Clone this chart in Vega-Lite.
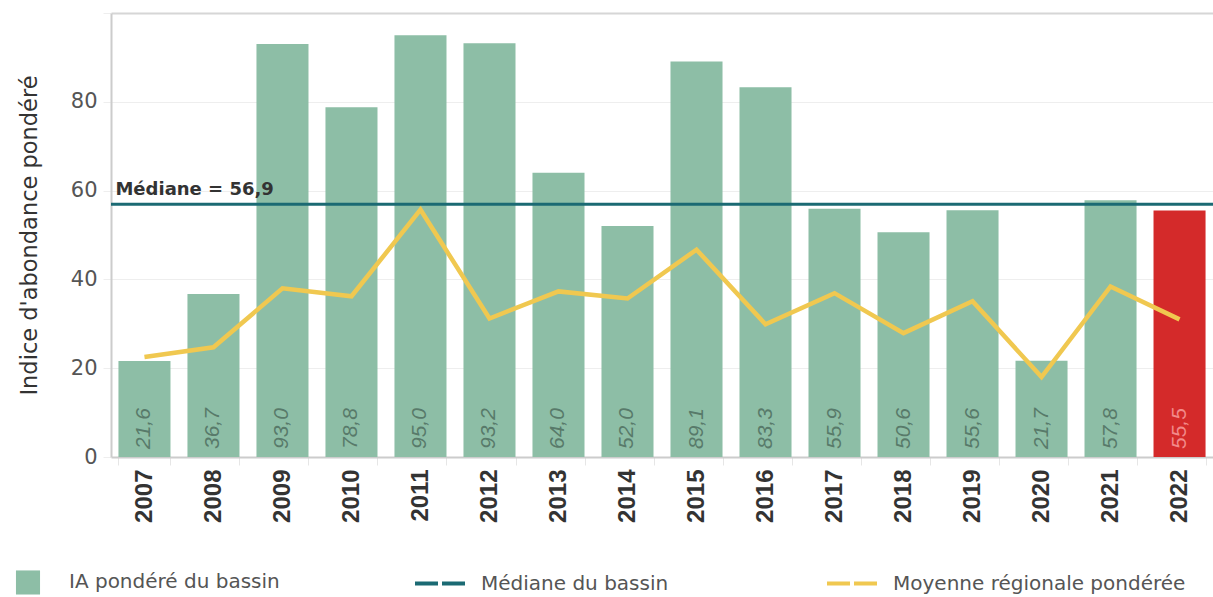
{
  "$schema": "https://vega.github.io/schema/vega-lite/v6.json",
  "width": 1102,
  "height": 444,
  "autosize": {"type": "none"},
  "padding": {"left": 111, "top": 13, "right": 0, "bottom": 140},
  "background": "white",
  "config": {
    "view": {"stroke": null},
    "locale": {"number": {"decimal": ",", "thousands": " ", "grouping": [3], "currency": ["", " €"]}},
    "font": "DejaVu Sans"
  },
  "datasets": {
    "annees": [
      {"annee": "2007", "ia": 21.6, "moyenne": 22.5},
      {"annee": "2008", "ia": 36.7, "moyenne": 24.7},
      {"annee": "2009", "ia": 93.0, "moyenne": 38.0},
      {"annee": "2010", "ia": 78.8, "moyenne": 36.2},
      {"annee": "2011", "ia": 95.0, "moyenne": 55.7},
      {"annee": "2012", "ia": 93.2, "moyenne": 31.2},
      {"annee": "2013", "ia": 64.0, "moyenne": 37.3},
      {"annee": "2014", "ia": 52.0, "moyenne": 35.7},
      {"annee": "2015", "ia": 89.1, "moyenne": 46.7},
      {"annee": "2016", "ia": 83.3, "moyenne": 29.9},
      {"annee": "2017", "ia": 55.9, "moyenne": 36.9},
      {"annee": "2018", "ia": 50.6, "moyenne": 27.9},
      {"annee": "2019", "ia": 55.6, "moyenne": 35.1},
      {"annee": "2020", "ia": 21.7, "moyenne": 18.0},
      {"annee": "2021", "ia": 57.8, "moyenne": 38.4},
      {"annee": "2022", "ia": 55.5, "moyenne": 31.0}
    ],
    "mediane": [
      {"annee": "2007", "mediane": 56.9}
    ]
  },
  "layer": [
    {
      "data": {"name": "annees"},
      "mark": {"type": "bar"},
      "encoding": {
        "x": {
          "field": "annee",
          "type": "nominal",
          "scale": {"paddingInner": 0.246, "paddingOuter": 0.108},
          "axis": {
            "title": null,
            "labelAngle": -90,
            "labelFont": "Liberation Sans",
            "labelFontWeight": "bold",
            "labelFontSize": 24,
            "labelColor": "#333333",
            "labelPadding": 4,
            "domainColor": "#cccccc",
            "domainWidth": 2,
            "tickColor": "#e6e6e6",
            "tickSize": 8,
            "tickBand": "extent",
            "grid": false
          }
        },
        "y": {
          "field": "ia",
          "type": "quantitative",
          "scale": {"domain": [0, 100], "nice": false},
          "axis": {
            "title": "Indice d'abondance pondéré",
            "titleFont": "DejaVu Sans",
            "titleFontSize": 22.5,
            "titleFontWeight": "normal",
            "titleColor": "#333333",
            "titlePadding": 29,
            "values": [0, 20, 40, 60, 80, 100],
            "labelExpr": "datum.value == 100 ? '' : datum.label",
            "labelFont": "DejaVu Sans",
            "labelFontSize": 21,
            "labelColor": "#555555",
            "labelPadding": 6,
            "tickSize": 8,
            "tickColor": "#eeeeee",
            "domainColor": "#cccccc",
            "domainWidth": 2,
            "gridColor": {"condition": {"test": "datum.value == 100", "value": "#d6d6d6"}, "value": "#eeeeee"},
            "gridWidth": {"condition": {"test": "datum.value == 100", "value": 2}, "value": 1}
          }
        },
        "color": {
          "condition": {"test": "datum.annee == '2022'", "value": "#d42a2a"},
          "datum": "IA pondéré du bassin",
          "type": "nominal",
          "scale": {
            "domain": ["IA pondéré du bassin", "Médiane du bassin", "Moyenne régionale pondérée"],
            "range": ["#8dbea6", "#1b6a73", "#f0c850"]
          },
          "legend": {
            "title": null,
            "orient": "none",
            "legendX": -93,
            "legendY": 559,
            "direction": "horizontal",
            "columns": 3,
            "gridAlign": "all",
            "columnPadding": 45,
            "padding": 0,
            "symbolSize": 2500,
            "labelOffset": 31,
            "labelFont": "DejaVu Sans",
            "labelFontSize": 20,
            "labelColor": "#555555",
            "labelLimit": 400,
            "encode": {
              "symbols": {
                "update": {
                  "shape": {"signal": "datum.value == 'IA pondéré du bassin' ? 'square' : 'stroke'"},
                  "size": {"signal": "datum.value == 'IA pondéré du bassin' ? 580 : 2500"},
                  "fill": {"signal": "datum.value == 'IA pondéré du bassin' ? '#8dbea6' : 'transparent'"},
                  "stroke": {"signal": "datum.value == 'IA pondéré du bassin' ? '#8dbea6' : (datum.value == 'Médiane du bassin' ? '#1b6a73' : '#f0c850')"},
                  "strokeWidth": {"signal": "datum.value == 'IA pondéré du bassin' ? 0 : 4"},
                  "strokeDash": {"signal": "datum.value == 'IA pondéré du bassin' ? [1, 0] : [23, 4]"},
                  "opacity": {"value": 1}
                }
              }
            }
          }
        }
      }
    },
    {
      "data": {"name": "annees"},
      "mark": {
        "type": "text",
        "angle": 270,
        "align": "left",
        "baseline": "middle",
        "dx": 8,
        "font": "Liberation Sans",
        "fontStyle": "italic",
        "fontSize": 21
      },
      "encoding": {
        "x": {"field": "annee", "type": "nominal"},
        "y": {"datum": 0, "type": "quantitative"},
        "text": {"field": "ia", "type": "quantitative", "format": ".1f"},
        "color": {
          "condition": {"test": "datum.annee == '2022'", "value": "#f28a8a"},
          "value": "#587a6a"
        }
      }
    },
    {
      "data": {"name": "mediane"},
      "mark": {"type": "rule", "strokeWidth": 3},
      "encoding": {
        "y": {"field": "mediane", "type": "quantitative"},
        "color": {"datum": "Médiane du bassin", "type": "nominal"}
      }
    },
    {
      "data": {"name": "mediane"},
      "mark": {
        "type": "text",
        "text": "Médiane = 56,9",
        "align": "left",
        "baseline": "alphabetic",
        "dx": -3,
        "dy": -9,
        "font": "DejaVu Sans",
        "fontWeight": "bold",
        "fontSize": 18,
        "color": "#333333"
      },
      "encoding": {
        "x": {"field": "annee", "type": "nominal", "bandPosition": 0},
        "y": {"field": "mediane", "type": "quantitative"}
      }
    },
    {
      "data": {"name": "annees"},
      "mark": {"type": "line", "strokeWidth": 4.5, "strokeJoin": "miter"},
      "encoding": {
        "x": {"field": "annee", "type": "nominal"},
        "y": {"field": "moyenne", "type": "quantitative"},
        "color": {"datum": "Moyenne régionale pondérée", "type": "nominal"}
      }
    }
  ]
}
